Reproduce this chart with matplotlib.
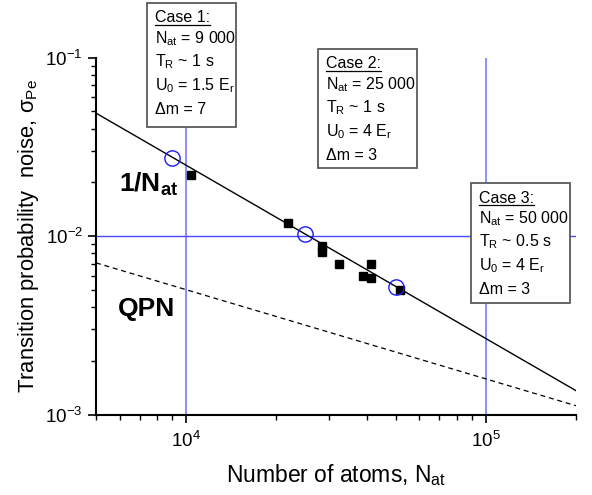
import matplotlib
matplotlib.use("Agg")
import matplotlib.pyplot as plt
from matplotlib.patches import Rectangle
from matplotlib.lines import Line2D
from matplotlib.ticker import NullFormatter, LogLocator

plt.rcParams["font.family"] = ["Liberation Sans", "DejaVu Sans"]
plt.rcParams["mathtext.fontset"] = "custom"
plt.rcParams["mathtext.rm"] = "Liberation Sans"
plt.rcParams["mathtext.it"] = "Liberation Sans:italic"
plt.rcParams["mathtext.bf"] = "Liberation Sans:bold"

# ---- data ----
fit_N = [5000, 200000]
fit_sigma = [0.0488, 0.00136]

qpn_N = [5000, 200000]
qpn_sigma = [0.00707, 0.00112]

meas_N = [10400, 21900, 28500, 28500, 32400, 38800, 41500, 41500, 51700]
meas_sigma = [0.0220, 0.0118, 0.0088, 0.0081, 0.0070, 0.0060, 0.0070, 0.0058, 0.0050]

case_N = [9000, 25000, 50000]
case_sigma = [0.0275, 0.0103, 0.0052]

ref_x = [1e4, 1e5]
ref_y = [1e-2]

case_titles = ["Case 1:", "Case 2:", "Case 3:"]
case_atoms = ["9 000", "25 000", "50 000"]
case_TR = ["1", "1", "0.5"]
case_U0 = ["1.5", "4", "4"]
case_dm = ["7", "3", "3"]

W, H = 592, 495


def px(x, y):
    """pixel position (from top-left) -> figure fraction"""
    return x / W, 1 - y / H


fig = plt.figure(figsize=(W / 100, H / 100), dpi=100)
ax = fig.add_axes([96 / W, 1 - 414.5 / H, 480 / W, 357 / H])

for xv in ref_x:
    ax.axvline(xv, color="#8c8cff", lw=1.4, zorder=1)
for yv in ref_y:
    ax.axhline(yv, color="#4848ff", lw=1.0, zorder=1)

ax.plot(fit_N, fit_sigma, color="black", lw=1.0, zorder=2)
ax.plot(qpn_N, qpn_sigma, color="black", lw=0.9, ls=(0, (4, 3)), zorder=2)
ax.plot(meas_N, meas_sigma, ls="none", marker="s", ms=5.5, color="black", zorder=3)
ax.plot(case_N, case_sigma, ls="none", marker="o", ms=11, mfc="none",
        mec="#1a1aff", mew=1.0, zorder=4)

ax.set_xscale("log")
ax.set_yscale("log")
ax.set_xlim(5000, 200000)
ax.set_ylim(1e-3, 1e-1)
ax.xaxis.set_minor_locator(LogLocator(base=10, subs=range(2, 10)))
ax.yaxis.set_minor_locator(LogLocator(base=10, subs=range(2, 10)))
ax.xaxis.set_minor_formatter(NullFormatter())
ax.yaxis.set_minor_formatter(NullFormatter())

for side in ("top", "right"):
    ax.spines[side].set_visible(False)
for side in ("left", "bottom"):
    ax.spines[side].set_linewidth(1.5)
ax.tick_params(which="major", direction="out", length=6, width=1.2, labelsize=13.5)
ax.tick_params(axis="x", which="major", pad=6)
ax.tick_params(which="minor", direction="out", length=3.5, width=1.0)

ax.set_xlabel(r"Number of atoms, N$_{\mathrm{at}}$", fontsize=16.5, labelpad=8)
ax.set_ylabel("Transition probability  noise, \u03c3$_{\\mathrm{Pe}}$", fontsize=15.8, labelpad=3)

# big labels
fig.text(*px(119, 192), r"1/N$_{\mathbf{at}}$", fontsize=19, fontweight="bold", va="baseline")
fig.text(*px(118, 316), "QPN", fontsize=19, fontweight="bold", va="baseline")

# case boxes
boxes = [(147, 3, 89, 124), (318, 49, 99, 119), (471, 183, 99, 120)]
offsets = [19.5, 40, 63.5, 87, 110.5]
titles = []
for i, (bx, by, bw, bh) in enumerate(boxes):
    x0, y0 = px(bx, by + bh)
    fig.add_artist(Rectangle((x0, y0), bw / W, bh / H, transform=fig.transFigure,
                             facecolor="white", edgecolor="#5a5a5a", lw=1.3, zorder=5))
    lines = [
        case_titles[i],
        r"N$_{\mathrm{at}}$ = " + case_atoms[i],
        r"T$_{\mathrm{R}}$ ~ " + case_TR[i] + " s",
        r"U$_{\mathrm{0}}$ = " + case_U0[i] + r" E$_{\mathrm{r}}$",
        "\u0394m = " + case_dm[i],
    ]
    for j, s in enumerate(lines):
        t = fig.text(*px(bx + 8, by + offsets[j]), s, fontsize=11.5, va="baseline", zorder=6)
        if j == 0:
            titles.append(t)

# underline the "Case n:" titles
fig.canvas.draw()
inv = fig.transFigure.inverted()
for t in titles:
    bb = t.get_window_extent()
    tx, ty = t.get_position()
    base = fig.transFigure.transform((tx, ty))[1]
    p0 = inv.transform((bb.x0, base - 2))
    p1 = inv.transform((bb.x1, base - 2))
    fig.add_artist(Line2D([p0[0], p1[0]], [p0[1], p1[1]], transform=fig.transFigure,
                          color="black", lw=0.9, zorder=6))

fig.savefig("out.png", dpi=100)
